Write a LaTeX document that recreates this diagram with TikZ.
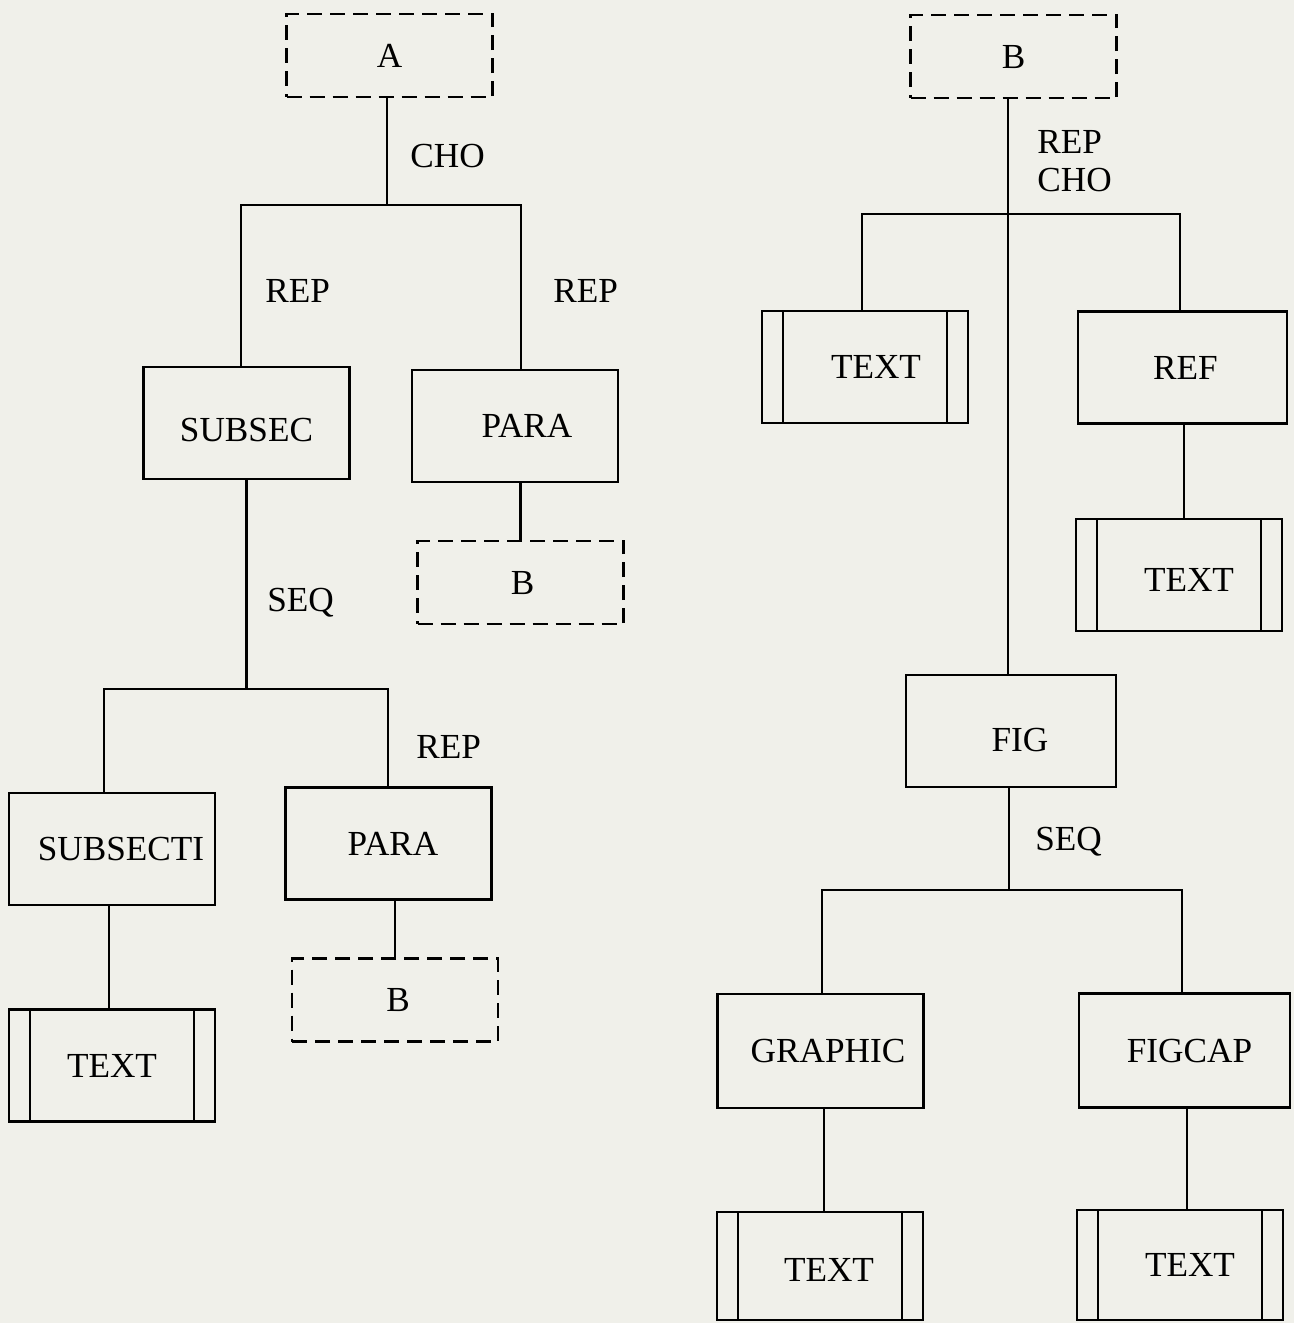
\documentclass[tikz,border=0pt]{standalone}
\usepackage{fontspec}
\setmainfont{Liberation Serif}
\definecolor{bgc}{RGB}{240,240,234}
\begin{document}
\begin{tikzpicture}[x=0.5pt,y=-0.5pt,
  every node/.style={font=\fontsize{17.6}{20}\selectfont},
  ln/.style={line width=1.3pt},
  box/.style={draw, line width=1.3pt, rectangle, minimum width=103pt, minimum height=56pt, inner sep=2pt, text depth=0pt},
  dbox/.style={box, dash pattern=on 7.5pt off 4pt, minimum height=41.5pt},
  tbox/.style={box, path picture={
    \draw[line width=1.3pt] ([xshift=10.5pt]path picture bounding box.north west) -- ([xshift=10.5pt]path picture bounding box.south west);
    \draw[line width=1.3pt] ([xshift=-10.5pt]path picture bounding box.north east) -- ([xshift=-10.5pt]path picture bounding box.south east);
  }},
  lab/.style={inner sep=0pt, anchor=base west},
  tdown/.style={text height=#1}
]
\fill[bgc] (0,0) rectangle (1294,1323);
\useasboundingbox (0,0) rectangle (1294,1323);

% left tree
\node[dbox] (A) at (389.5,55.5) {A};
\node[box, tdown=18.6pt] (subsec) at (246.5,423) {SUBSEC};
\node[box] (para1) at (515,426) {\hspace*{12pt}PARA};
\node[dbox] (b1) at (520.5,582.5) {\hspace*{2pt}B};
\node[box] (subsecti) at (112,849) {\hspace*{9pt}SUBSECTI};
\node[box] (para2) at (388.5,843.5) {\hspace*{4.5pt}PARA};
\node[dbox] (b2) at (395,1000) {\hspace*{3pt}B};
\node[tbox] (text1) at (112,1065.5) {TEXT};

% right tree
\node[dbox] (btop) at (1013.5,56.5) {B};
\node[tbox] (text2) at (865,367) {\hspace*{11pt}TEXT};
\node[box, minimum width=104.5pt] (ref) at (1182.5,367.5) {\hspace*{3pt}REF};
\node[tbox, tdown=16.6pt] (text3) at (1179,575) {\hspace*{10pt}TEXT};
\node[box, minimum width=105pt, tdown=20.6pt] (fig) at (1011,731) {\hspace*{9pt}FIG};
\node[box, minimum height=57pt] (graphic) at (820.5,1051) {\hspace*{7.5pt}GRAPHIC};
\node[box, minimum width=105.5pt, minimum height=57pt] (figcap) at (1184.5,1050.5) {\hspace*{5pt}FIGCAP};
\node[tbox, minimum height=54pt, tdown=15.6pt] (text4) at (820,1266) {\hspace*{9pt}TEXT};
\node[tbox, minimum height=55pt] (text5) at (1180,1265) {\hspace*{10pt}TEXT};

% connectors left
\coordinate (jA) at (387,205);
\coordinate (jAl) at (241,205);
\coordinate (jAr) at (521,205);
\draw[ln] (A.south -| jA) -- (jA);
\draw[ln] (subsec.north -| jAl) -- (jAl) -- (jAr) -- (para1.north -| jAr);
\draw[ln] (b1.north) -- (b1.north |- para1.south);
\coordinate (jS) at (246.5,689);
\coordinate (jSl) at (104,689);
\coordinate (jSr) at (388,689);
\draw[ln] (subsec.south) -- (jS);
\draw[ln] (subsecti.north -| jSl) -- (jSl) -- (jSr) -- (para2.north -| jSr);
\draw[ln] (b2.north) -- (b2.north |- para2.south);
\coordinate (jT1) at (109,0);
\draw[ln] (subsecti.south -| jT1) -- (text1.north -| jT1);

% connectors right
\coordinate (jB) at (1008,214);
\coordinate (jBl) at (862,214);
\coordinate (jBr) at (1180,214);
\draw[ln] (btop.south -| jB) -- (fig.north -| jB);
\draw[ln] (text2.north -| jBl) -- (jBl) -- (jBr) -- (ref.north -| jBr);
\coordinate (jR) at (1184,0);
\draw[ln] (ref.south -| jR) -- (text3.north -| jR);
\coordinate (jF) at (1009,890);
\coordinate (jFl) at (822,890);
\coordinate (jFr) at (1182,890);
\draw[ln] (fig.south -| jF) -- (jF);
\draw[ln] (graphic.north -| jFl) -- (jFl) -- (jFr) -- (figcap.north -| jFr);
\coordinate (jG) at (824,0);
\draw[ln] (graphic.south -| jG) -- (text4.north -| jG);
\coordinate (jC) at (1187,0);
\draw[ln] (figcap.south -| jC) -- (text5.north -| jC);

% labels
\node[lab] (cho1) at (410,167) {CHO};
\node[lab] (rep1) at (265,302) {REP};
\node[lab] (rep2) at (553,302) {REP};
\node[lab] (seq1) at (267,611) {SEQ};
\node[lab] (rep3) at (416,758) {REP};
\node[lab] (rep4) at (1037,153) {REP};
\node[lab] (cho2) at (1037,191) {CHO};
\node[lab] (seq2) at (1035,850) {SEQ};
\end{tikzpicture}
\end{document}
